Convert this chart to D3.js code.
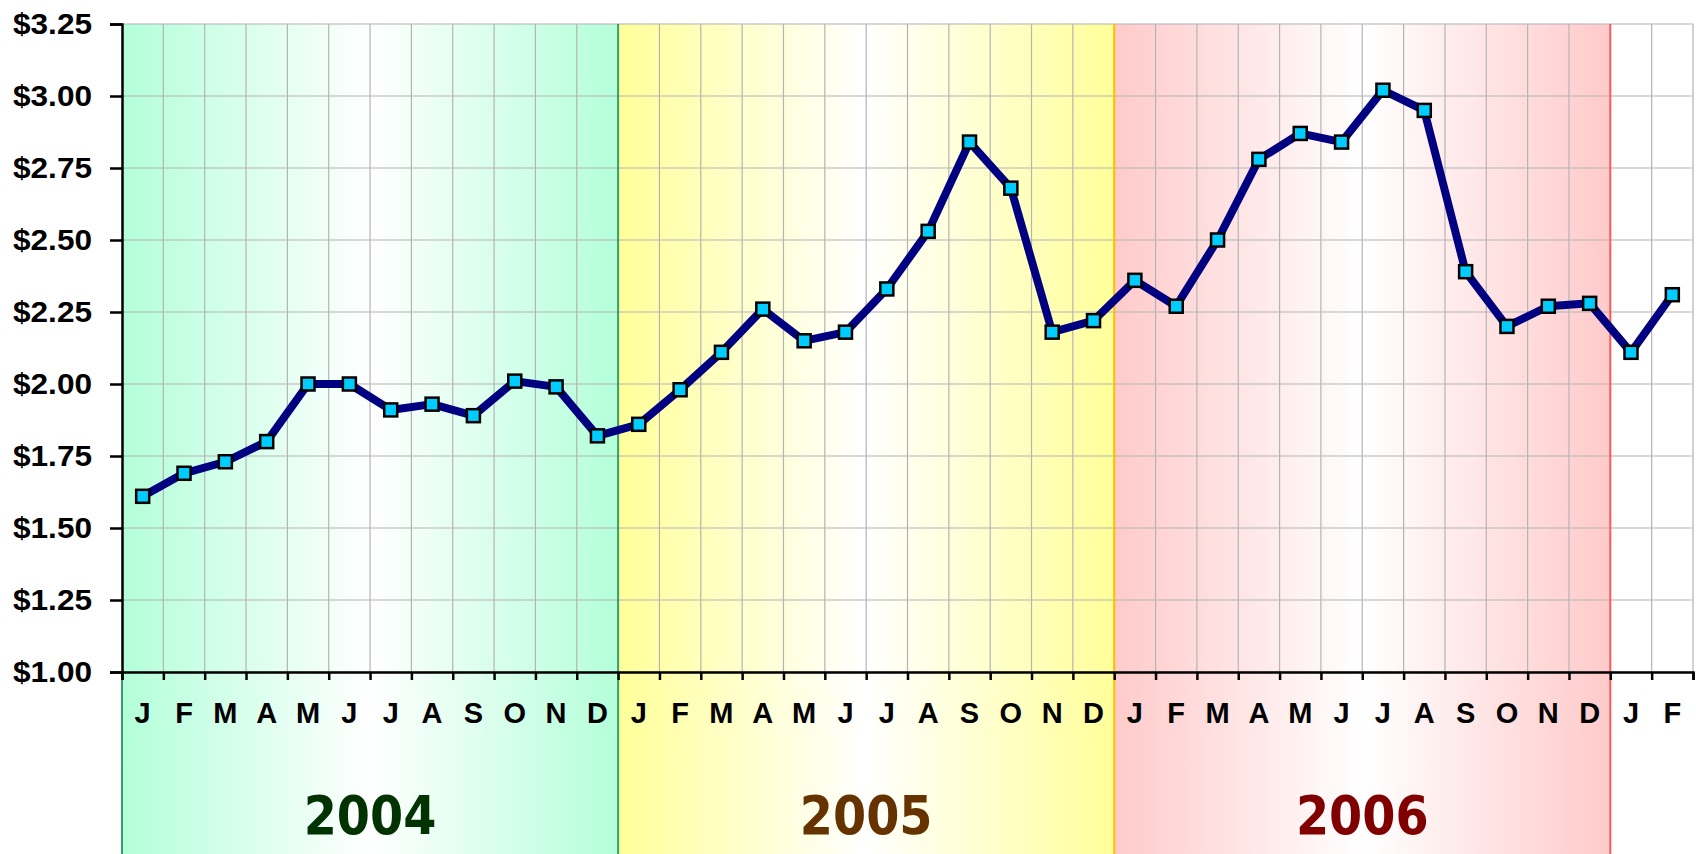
<!DOCTYPE html>
<html>
<head>
<meta charset="utf-8">
<script src="https://cdn.jsdelivr.net/npm/d3@7"></script>
<style>
  html, body { margin: 0; padding: 0; background: #ffffff; }
  svg { display: block; }
</style>
</head>
<body>
<svg id="chart" width="1696" height="854"></svg>
<script>
/************************************ Data *******************************/
var months = ["J","F","M","A","M","J","J","A","S","O","N","D",
              "J","F","M","A","M","J","J","A","S","O","N","D",
              "J","F","M","A","M","J","J","A","S","O","N","D",
              "J","F"];
var prices = [1.61, 1.69, 1.73, 1.80, 2.00, 2.00, 1.91, 1.93, 1.89, 2.01, 1.99, 1.82,
              1.86, 1.98, 2.11, 2.26, 2.15, 2.18, 2.33, 2.53, 2.84, 2.68, 2.18, 2.22,
              2.36, 2.27, 2.50, 2.78, 2.87, 2.84, 3.02, 2.95, 2.39, 2.20, 2.27, 2.28,
              2.11, 2.31];
var years = ["2004", "2005", "2006"];
var yearStart = [0, 12, 24];
var yTicks = [1.00, 1.25, 1.50, 1.75, 2.00, 2.25, 2.50, 2.75, 3.00, 3.25];

/************************************ Styles *******************************/
var bandEdge   = ["#b3ffd9", "#ffff99", "#ffcaca"];
var bandBorder = ["#3c9c6c", "#ffc000", "#ff5a5a"];
var yearColor  = ["#003300", "#663300", "#800000"];

var W = 1696, H = 854;
var plotLeft = 122, plotRight = 1693, plotTop = 24, plotBottom = 672;

var svg = d3.select("#chart");

var x = d3.scaleLinear().domain([0, months.length]).range([plotLeft, plotRight]);
var y = d3.scaleLinear().domain([1, 3.25]).range([plotBottom, plotTop]);

/************************************ Bands *******************************/
var defs = svg.append("defs");
years.forEach(function(yr, i) {
	var g = defs.append("linearGradient")
		.attr("id", "band" + i)
		.attr("x1", "0%").attr("x2", "100%")
		.attr("y1", "0%").attr("y2", "0%");
	g.append("stop").attr("offset", "0%").attr("stop-color", bandEdge[i]);
	g.append("stop").attr("offset", "50%").attr("stop-color", "#ffffff");
	g.append("stop").attr("offset", "100%").attr("stop-color", bandEdge[i]);
});

svg.selectAll("rect.band")
	.data(years)
	.enter().append("rect")
	.attr("class", "band")
	.attr("x", function(d, i) { return x(yearStart[i]); })
	.attr("y", plotTop)
	.attr("width", function(d, i) { return x(yearStart[i] + 12) - x(yearStart[i]); })
	.attr("height", H - plotTop)
	.style("fill", function(d, i) { return "url(#band" + i + ")"; });

/************************************ Grid *******************************/
var grid = svg.append("g").attr("class", "grid");
grid.selectAll("line.h")
	.data(yTicks)
	.enter().append("line")
	.attr("x1", plotLeft).attr("x2", plotRight)
	.attr("y1", function(d) { return y(d); })
	.attr("y2", function(d) { return y(d); })
	.style("stroke", "#b4b4b4").style("stroke-width", 1.2);
grid.selectAll("line.v")
	.data(d3.range(1, months.length + 1))
	.enter().append("line")
	.attr("x1", function(d) { return x(d); })
	.attr("x2", function(d) { return x(d); })
	.attr("y1", plotTop).attr("y2", plotBottom)
	.style("stroke", "#b4b4b4").style("stroke-width", 1.2);

// band borders (below the axis they run down to the bottom of the image)
var borderX = [0, 12, 24, 36];
var borderC = [bandBorder[0], bandBorder[0], bandBorder[1], bandBorder[2]];
svg.selectAll("line.border")
	.data(borderX)
	.enter().append("line")
	.attr("x1", function(d) { return x(d); })
	.attr("x2", function(d) { return x(d); })
	.attr("y1", function(d) { return d === 0 ? plotBottom : plotTop; })
	.attr("y2", H)
	.style("stroke", function(d, i) { return borderC[i]; })
	.style("stroke-width", 2);

/************************************ Axes *******************************/
var yAxis = d3.axisLeft(y)
	.tickValues(yTicks)
	.tickSize(12)
	.tickPadding(18)
	.tickFormat(d3.format("$.2f"));
var gy = svg.append("g")
	.attr("transform", "translate(" + plotLeft + ",0)")
	.call(yAxis);
gy.select(".domain").style("stroke", "#000").style("stroke-width", 2.5);
gy.selectAll(".tick line").style("stroke", "#000").style("stroke-width", 2.5);
gy.selectAll(".tick text")
	.style("font-family", "'Liberation Sans', Arial, sans-serif")
	.style("font-weight", "bold")
	.style("font-size", "29px")
	.style("fill", "#000")
	.attr("dy", "0.33em")
	.attr("textLength", 79)
	.attr("lengthAdjust", "spacingAndGlyphs");

var xAxis = d3.axisBottom(x)
	.tickValues(d3.range(0, months.length + 1))
	.tickSize(8)
	.tickFormat("");
var gx = svg.append("g")
	.attr("transform", "translate(0," + plotBottom + ")")
	.call(xAxis);
gx.select(".domain").style("stroke", "#000").style("stroke-width", 2.5);
gx.selectAll(".tick line").style("stroke", "#000").style("stroke-width", 2.5);

svg.selectAll("text.month")
	.data(months)
	.enter().append("text")
	.attr("class", "month")
	.attr("x", function(d, i) { return x(i + 0.5); })
	.attr("y", 723)
	.attr("text-anchor", "middle")
	.style("font-family", "'Liberation Sans', Arial, sans-serif")
	.style("font-weight", "bold")
	.style("font-size", "29px")
	.style("fill", "#000")
	.text(function(d) { return d; });

svg.selectAll("text.year")
	.data(years)
	.enter().append("text")
	.attr("class", "year")
	.attr("x", function(d, i) { return x(yearStart[i] + 6); })
	.attr("y", 834)
	.attr("text-anchor", "middle")
	.style("font-family", "'DejaVu Sans Condensed', 'DejaVu Sans', sans-serif")
	.style("font-weight", "bold")
	.style("font-size", "53px")
	.style("fill", function(d, i) { return yearColor[i]; })
	.text(function(d) { return d; });

/************************************ Series *******************************/
var line = d3.line()
	.x(function(d, i) { return x(i + 0.5); })
	.y(function(d) { return y(d); });

svg.append("path")
	.datum(prices)
	.attr("d", line)
	.style("fill", "none")
	.style("stroke", "#000080")
	.style("stroke-width", 8)
	.style("stroke-linejoin", "round");

var m = 13;
svg.selectAll("rect.marker")
	.data(prices)
	.enter().append("rect")
	.attr("class", "marker")
	.attr("x", function(d, i) { return x(i + 0.5) - m / 2; })
	.attr("y", function(d) { return y(d) - m / 2; })
	.attr("width", m)
	.attr("height", m)
	.style("fill", "#00ccff")
	.style("stroke", "#000")
	.style("stroke-width", 2.5);
</script>
</body>
</html>
